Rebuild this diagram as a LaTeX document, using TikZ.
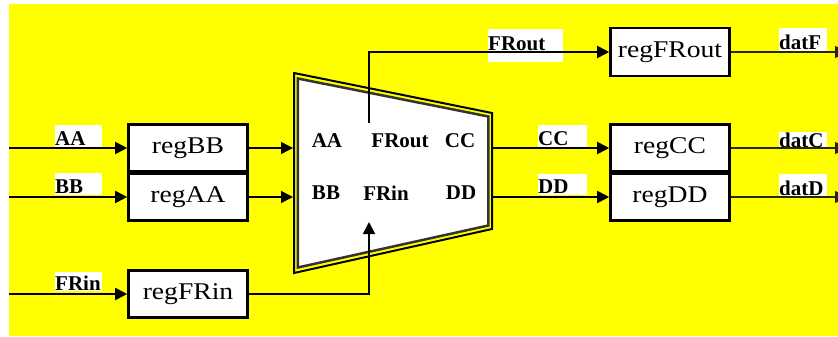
\documentclass[tikz,border=0pt]{standalone}
\usepackage{fontspec}
\setmainfont{Liberation Serif}
\usetikzlibrary{arrows.meta}
\definecolor{bgyellow}{RGB}{255,255,0}
\definecolor{wireolive}{RGB}{40,40,0}
\newcommand{\rgtxt}[1]{\scalebox{1.15}[1]{#1}}
\begin{document}
\begin{tikzpicture}[x=1pt,y=-1pt,
  reg/.style={draw=black, line width=2.6pt, fill=white, minimum width=119pt, minimum height=47pt, inner sep=0pt, font=\fontsize{24}{26}\selectfont},
  lbl/.style={fill=white, anchor=north west, inner sep=0pt, align=left, font=\fontsize{21}{22}\selectfont\bfseries},
  mlbl/.style={inner sep=0pt, font=\fontsize{21}{22}\selectfont\bfseries},
  wire/.style={line width=1.9pt, -{Triangle[length=12pt,width=12pt]}},
  thinwire/.style={line width=1.4pt, -{Triangle[length=12pt,width=12pt]}},
  outwire/.style={line width=1.6pt, draw=wireolive, -{Triangle[length=12pt,width=12pt]}}
]
\useasboundingbox (0,0) rectangle (838,337);
\clip (0,0) rectangle (838,337);
\fill[white] (0,0) rectangle (838,337);
\fill[bgyellow] (9,4) rectangle (838,336);

% multiplexer body
\draw[line width=2pt, fill=bgyellow] (294,73) -- (492,113) -- (492,229) -- (294,273) -- cycle;
\draw[line width=2.5pt, draw=black!80, fill=white] (297.8,78.5) -- (488.3,116.5) -- (488.3,225.5) -- (297.8,267.5) -- cycle;
\coordinate (muxAA) at (293,148);
\coordinate (muxBB) at (293,197);
\coordinate (muxCC) at (493,148);
\coordinate (muxDD) at (493,197);
\coordinate (frinTip) at (369,222);
\coordinate (froutStart) at (369,123);
\coordinate (froutCorner) at (369,52);

\node[mlbl] (mAA) at (327,141) {AA};
\node[mlbl] (mFRout) at (400,141) {FRout};
\node[mlbl] (mCC) at (460,141) {CC};
\node[mlbl] (mBB) at (326,193) {BB};
\node[mlbl] (mFRin) at (386,193) {FRin};
\node[mlbl] (mDD) at (461,193) {DD};

% registers
\node[reg] (regBB) at (188,148) {\rgtxt{regBB}};
\node[reg] (regAA) at (188,197) {\rgtxt{regAA}};
\node[reg] (regFRin) at (188,294) {\rgtxt{regFRin}};
\node[reg, minimum height=48pt] (regFRout) at (670,52) {\rgtxt{regFRout}};
\node[reg] (regCC) at (670,148) {\rgtxt{regCC}};
\node[reg] (regDD) at (670,197) {\rgtxt{regDD}};

% labels
\node[lbl, text width=47pt, text height=20pt, text depth=2pt] (lAA) at (55,125) {AA};
\node[lbl, text width=47pt, text height=20pt, text depth=2pt] (lBB) at (55,173) {BB};
\node[lbl, text width=47pt, text height=18pt, text depth=1pt] (lFRin) at (55,272) {FRin};
\node[lbl, text width=75pt, text height=21pt, text depth=12pt] (lFRout) at (488,29) {FRout};
\node[lbl, text width=49pt, text height=20pt, text depth=2pt] (lCC) at (538,125) {CC};
\node[lbl, text width=49pt, text height=19pt, text depth=2pt] (lDD) at (538,174) {DD};
\node[lbl, text width=48pt, text height=21pt, text depth=2pt] (ldatF) at (779,28) {datF};
\node[lbl, text width=48pt, text height=15pt, text depth=1pt] (ldatC) at (779,132) {datC};
\node[lbl, text width=48pt, text height=21pt, text depth=2pt] (ldatD) at (779,174) {datD};

% free ends
\coordinate (inAA) at (9,148);
\coordinate (inBB) at (9,197);
\coordinate (inFRin) at (9,294);
\coordinate (outF) at (847,52);
\coordinate (outC) at (847,148);
\coordinate (outD) at (847,197);

% wires
\draw[wire] (inAA) -- (regBB.west);
\draw[wire] (inBB) -- (regAA.west);
\draw[wire] (inFRin) -- (regFRin.west);
\draw[thinwire] (regBB.east) -- (muxAA);
\draw[thinwire] (regAA.east) -- (muxBB);
\draw[wire] (regFRin.east) -| (frinTip);
\draw[wire] (froutStart) -- (froutCorner) -- (regFRout.west);
\draw[wire] (muxCC) -- (regCC.west);
\draw[wire] (muxDD) -- (regDD.west);
\draw[outwire] (regFRout.east) -- (outF);
\draw[outwire] (regCC.east) -- (outC);
\draw[outwire] (regDD.east) -- (outD);
\end{tikzpicture}
\end{document}
